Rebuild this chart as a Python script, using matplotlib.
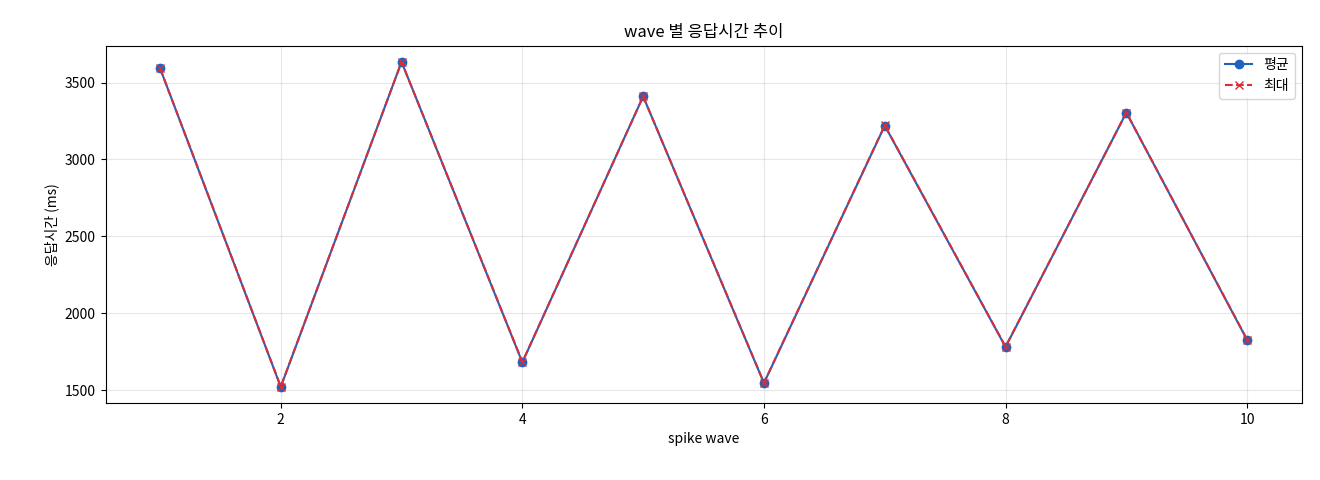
import matplotlib
matplotlib.use("Agg")
import matplotlib.pyplot as plt

plt.rcParams['font.family'] = ['Noto Sans CJK KR', 'DejaVu Sans']

waves = [1, 2, 3, 4, 5, 6, 7, 8, 9, 10]
avg_ms = [3595, 1520, 3635, 1680, 3410, 1545, 3220, 1780, 3305, 1825]
max_ms = [3595, 1522, 3635, 1682, 3410, 1547, 3222, 1782, 3305, 1827]

fig, ax = plt.subplots(figsize=(13.2, 4.8), dpi=100)
ax.plot(waves, avg_ms, '-o', color='#1f63c0', markersize=6, label='평균')
ax.plot(waves, max_ms, '--x', color='#d62f3a', markersize=6, label='최대')
ax.set_title('wave 별 응답시간 추이')
ax.set_xlabel('spike wave')
ax.set_ylabel('응답시간 (ms)')
ax.grid(True, alpha=0.3)
ax.legend(loc='upper right')
fig.subplots_adjust(left=0.08, right=0.986, top=0.905, bottom=0.16)
fig.savefig('out.png')
